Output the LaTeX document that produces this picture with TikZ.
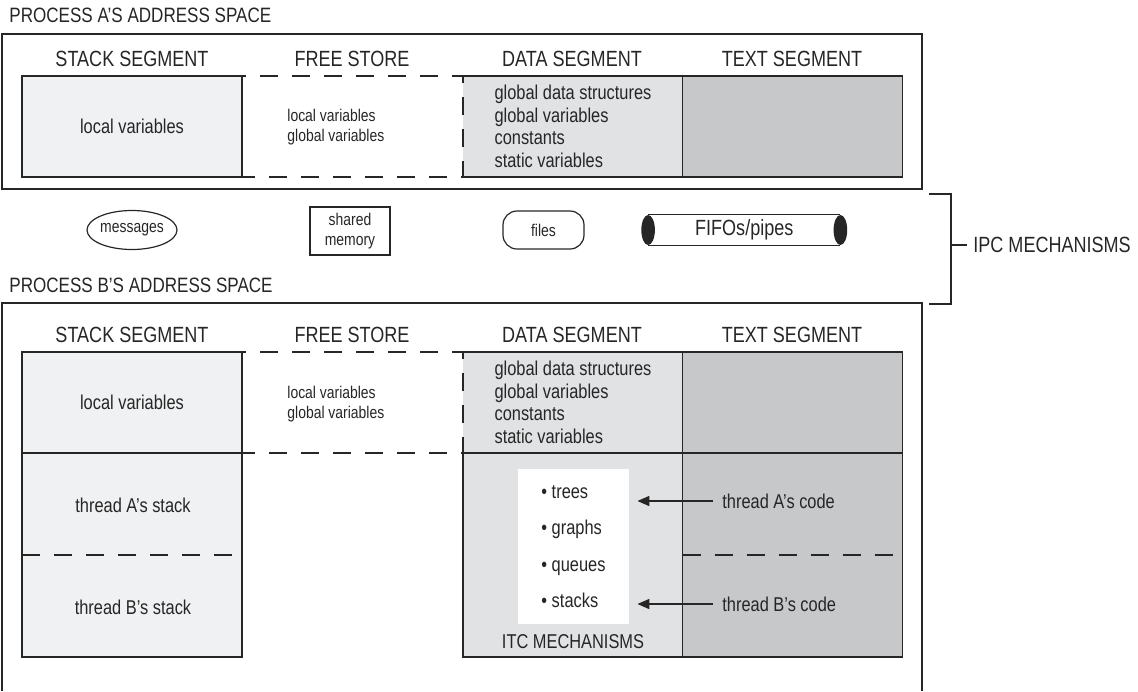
\documentclass[tikz,border=0pt]{standalone}
\usepackage{fontspec}
\setmainfont{Liberation Sans}[FakeStretch=0.82]
\usepackage{tikz}
\usetikzlibrary{arrows.meta,positioning,shapes.geometric}
\definecolor{ink}{HTML}{262626}
\definecolor{pale}{HTML}{F0F1F2}
\definecolor{cloud}{HTML}{E1E2E4}
\definecolor{steel}{HTML}{C7C8CA}

\begin{document}
\begin{tikzpicture}[x=0.5pt,y=-0.5pt,
    big/.style={font=\fontsize{11}{13}\selectfont,text=ink,inner sep=0pt},
    ttl/.style={font=\fontsize{10.4}{12}\selectfont,text=ink,inner sep=0pt,anchor=west},
    mid/.style={font=\fontsize{10}{11.3}\selectfont,text=ink,inner sep=0pt},
    sml/.style={font=\fontsize{8.5}{9.6}\selectfont,text=ink,inner sep=0pt},
    frame/.style={draw=ink,line width=0.8pt},
    seg/.style={mid,line width=0.8pt,minimum width=110pt,minimum height=50.5pt,outer sep=0pt},
    stk/.style={seg,fill=pale,draw=ink},
    dat/.style={seg,fill=cloud,align=left},
    txt/.style={seg,fill=steel},
    ipc/.style={sml,draw=ink,line width=0.6pt,align=center},
    gap/.style={draw=ink,line width=0.9pt,dash pattern=on 9pt off 7pt},
    flow/.style={-{Triangle[length=6pt,width=5pt]},line width=0.8pt,ink,
                 shorten <=4.5pt,shorten >=4pt}]
  \useasboundingbox (0,0) rectangle (1138,691);

  % process A
  \node[ttl] (ta) at (9,15) {PROCESS A’S ADDRESS SPACE};
  \draw[frame] (2,34) rectangle (922,189);
  \foreach \x/\h in {132/STACK SEGMENT,352/FREE STORE,572/DATA SEGMENT,792/TEXT SEGMENT}
    \node[big] at (\x,59) {\h};
  \node[stk] (sa) at (132,126.5) {local variables};
  \node[dat] (da) at (573,126.5)
       {global data structures\\global variables\\constants\\static variables};
  \node[txt] (xa) at (792.5,126.5) {};
  \node[sml,anchor=west,align=left,font=\fontsize{8.5}{10}\selectfont] (fa) at (287,127)
       {local variables\\global variables};
  \draw[gap] (sa.north east) rectangle (da.south west);
  \draw[frame] (da.north west) -- (xa.north east) -- (xa.south east) -- (da.south west);
  \draw[frame] (xa.north west) -- (xa.south west);

  % ipc
  \node[ipc,ellipse,minimum width=45pt,minimum height=19.5pt] (msg) at (132,230) {messages};
  \node[ipc,minimum width=40pt,minimum height=24pt] (shm) at (350,231) {shared\\memory};
  \node[ipc,rounded corners=7pt,minimum width=40.5pt,minimum height=19pt] (fil) at (543.5,230) {files};
  \node[big,minimum width=95.75pt,minimum height=15pt] (fifo) at (744.25,230) {FIFOs/pipes};
  \draw[ink,line width=0.6pt] (fifo.north west) -- (fifo.north east)
       (fifo.south west) -- (fifo.south east);
  \fill[ink] (fifo.west) ellipse [x radius=3.4pt,y radius=7.5pt]
             (fifo.east) ellipse [x radius=3.4pt,y radius=7.5pt];
  \draw[frame] (929,194) -| (951,304) -- (929,304);
  \coordinate (brk) at (951,245);
  \node[big,anchor=west] (ipcl) at (973,245) {IPC MECHANISMS};
  \draw[frame] (brk) -- ([xshift=-3pt]ipcl.west);

  % process B
  \node[ttl] (tb) at (9,285) {PROCESS B’S ADDRESS SPACE};
  \draw[frame] (2,691) |- (922,303) -- (922,691);
  \foreach \x/\h in {132/STACK SEGMENT,352/FREE STORE,572/DATA SEGMENT,792/TEXT SEGMENT}
    \node[big] at (\x,335) {\h};
  \node[stk] (sb) at (132,402.5) {local variables};
  \node[dat] (db) at (573,402.5)
       {global data structures\\global variables\\constants\\static variables};
  \node[txt] (xb) at (792.5,402.5) {};
  \node[sml,anchor=west,align=left,font=\fontsize{8.5}{10}\selectfont] (fb) at (287,404)
       {local variables\\global variables};
  \draw[gap] (sb.north east) rectangle (db.south west);
  \draw[frame] (db.north west) -- (xb.north east) -- (xb.south east);
  \draw[frame] (xb.north west) -- (xb.south west);

  \node[stk,minimum height=102pt] (lb) at (132,555) {};
  \node[dat,draw=ink,minimum height=102pt] (ld) at (573,555) {};
  \node[txt,draw=ink,minimum height=102pt] (lx) at (792.5,555) {};
  \draw[gap] (lb.west) -- (lb.east);
  \draw[gap] (lx.west) -- (lx.east);
  \node[mid] (sta) at (133,505) {thread A’s stack};
  \node[mid] (stb) at (133,607) {thread B’s stack};
  \node[mid,fill=white,minimum width=55.5pt,minimum height=77.5pt,align=left,
        font=\fontsize{10}{18.25}\selectfont] (itc) at (573.5,546.5)
       {\textbullet\ trees\\\textbullet\ graphs\\\textbullet\ queues\\\textbullet\ stacks};
  \node[mid] (itcl) at (573,642) {ITC MECHANISMS};
  \node[mid,anchor=west] (ca) at (722,501) {thread A’s code};
  \node[mid,anchor=west] (cb) at (722,604) {thread B’s code};
  \draw[flow] (ca.west) -- (ca.west -| itc.east);
  \draw[flow] (cb.west) -- (cb.west -| itc.east);
\end{tikzpicture}
\end{document}
